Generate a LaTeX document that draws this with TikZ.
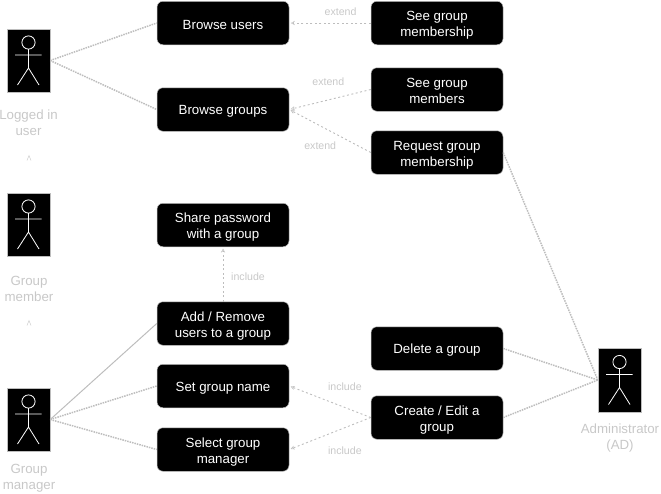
\documentclass[tikz,border=0pt]{standalone}
\usepackage{fontspec}
\setmainfont{Liberation Sans}
\usetikzlibrary{arrows.meta}
\definecolor{lineg}{HTML}{BDBDBD}
\definecolor{txtg}{HTML}{C8C8C8}
\tikzset{
  x=1pt,y=-1pt,
  usecase/.style={draw=lineg,line width=0.5pt,fill=black,text=white,rounded corners=6pt,minimum width=132pt,minimum height=43.5pt,align=center,inner sep=0pt,font=\fontsize{13.3}{16}\selectfont,execute at begin node={\rule{0pt}{13pt}}},
  twolines/.style={execute at begin node={},text height=28pt,text depth=1pt},
  actorbox/.style={draw=lineg,line width=0.4pt,fill=black,minimum width=43pt,minimum height=63.5pt,inner sep=0pt},
  actorname/.style={text=txtg,align=center,inner sep=0pt,font=\fontsize{13.3}{16}\selectfont},
  edgelabel/.style={text=txtg,inner sep=0pt,font=\fontsize{10.6}{12}\selectfont},
  assoc/.style={draw=lineg,line width=1.5pt,dash pattern=on 1.5pt off 1pt},
  solidassoc/.style={draw=lineg,line width=1pt},
  depend/.style={draw=lineg,line width=0.9pt,dash pattern=on 2pt off 2.5pt,-{Stealth[open,length=4pt,width=4pt,line width=0.4pt,sep=1.5pt]}},
  genhead/.style={draw=txtg,line width=0.4pt},
  pics/stick/.style={code={
    \draw[white,line width=0.8pt] (0,-18) circle[radius=6.6pt];
    \draw[white,line width=0.8pt] (0,-11.4) -- (0,7.5) (-13.5,-5.5) -- (13,-5.5) (-11,24.5) -- (0,7.5) -- (10.5,24.5);
  }}
}
\begin{document}
\begin{tikzpicture}
\useasboundingbox (0,0) rectangle (661,493);
% use cases
\node[usecase] (bu) at (223,23) {Browse users};
\node[usecase,twolines] (sgm) at (437,23) {See group\\membership};
\node[usecase] (bg) at (223,109.5) {Browse groups};
\node[usecase,twolines] (sgb) at (437,89.5) {See group\\members};
\node[usecase,twolines] (req) at (437,152.5) {Request group\\membership};
\node[usecase,twolines] (share) at (223,225) {Share password\\with a group};
\node[usecase,twolines] (add) at (223,323.5) {Add / Remove\\users to a group};
\node[usecase] (del) at (437,348.5) {Delete a group};
\node[usecase] (name) at (223,386) {Set group name};
\node[usecase,twolines] (create) at (437,417.5) {Create / Edit a\\group};
\node[usecase,twolines] (sel) at (223,449.5) {Select group\\manager};
% actors
\node[actorbox] (logged) at (28.5,60.5) {};
\pic at (logged) {stick};
\node[actorbox] (member) at (28.5,224.5) {};
\pic at (member) {stick};
\node[actorbox] (manager) at (28.5,419.5) {};
\pic at (manager) {stick};
\node[actorbox] (admin) at (619.5,380) {};
\pic at (admin) {stick};
\node[actorname] (tlogged) at (28.5,123) {Logged in\\user};
\node[actorname] (tmember) at (29,289) {Group\\member};
\node[actorname] (tmanager) at (29,478.5) {Group\\manager};
\node[actorname] (tadmin) at (620,438) {Administrator\\(AD)};
% associations
\draw[assoc] (logged.east) -- (bu.west);
\draw[assoc] (logged.east) -- (bg.west);
\draw[solidassoc] (manager.east) -- (add.west);
\draw[assoc] (manager.east) -- (name.west);
\draw[assoc] (manager.east) -- (sel.west);
\draw[assoc] (req.east) -- (admin.west);
\draw[assoc] (del.east) -- (admin.west);
\draw[assoc] (create.east) -- (admin.west);
% dependencies
\draw[depend] (sgm.west) -- node[edgelabel,pos=0.37,yshift=11pt] (l1) {extend} (bu.east);
\draw[depend] (sgb.west) -- node[edgelabel,pos=0.52,yshift=18pt] (l2) {extend} (bg.east);
\draw[depend] (req.west) -- node[edgelabel,pos=0.62,yshift=-20pt] (l3) {extend} (bg.east);
\draw[depend] (add.north) -- node[edgelabel,xshift=25pt,yshift=-2pt] (l4) {include} (share.south);
\draw[depend] (create.west) -- node[edgelabel,pos=0.33,xshift=1pt,yshift=20pt] (l5) {include} (name.east);
\draw[depend] (create.west) -- node[edgelabel,pos=0.33,xshift=1pt,yshift=-23pt] (l6) {include} (sel.east);
% generalisation tips
\coordinate (g1) at (29,158);
\coordinate (g2) at (29,323);
\draw[genhead] ([shift={(-2,2.5)}]g1) -- ([shift={(0,-2.5)}]g1) -- ([shift={(2,2.5)}]g1);
\draw[genhead] ([shift={(-2,2.5)}]g2) -- ([shift={(0,-2.5)}]g2) -- ([shift={(2,2.5)}]g2);
\end{tikzpicture}
\end{document}
